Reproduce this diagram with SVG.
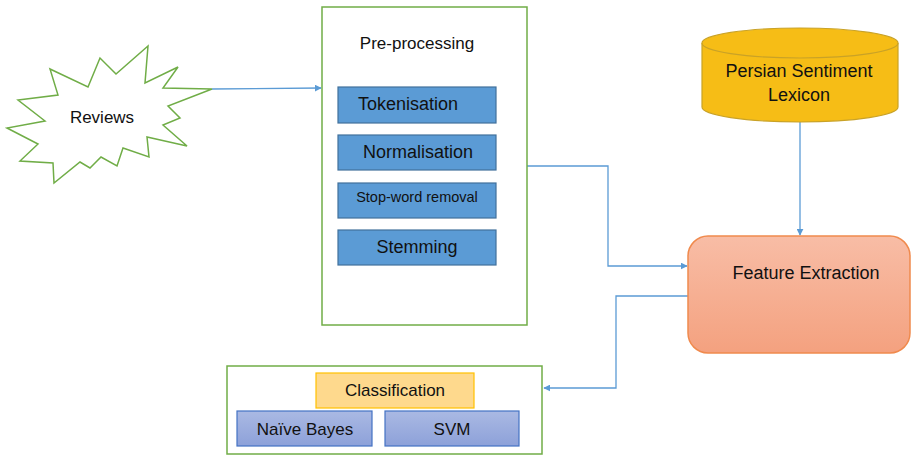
<svg xmlns="http://www.w3.org/2000/svg" width="911" height="456" viewBox="0 0 911 456">
  <style>
    text { font-family: "Liberation Sans", Arial, sans-serif; fill: #111; text-anchor: middle; }
    .frame { fill: #fff; stroke: #70AD47; stroke-width: 1.5; }
    .step { fill: #5B9BD5; stroke: #41719C; stroke-width: 1.2; }
    .algo { fill: url(#algoFill); stroke: #4472C4; stroke-width: 1.2; }
    .conn { fill: none; stroke: #5B9BD5; stroke-width: 1.3; marker-end: url(#arrow); }
  </style>
  <defs>
    <marker id="arrow" viewBox="0 0 10 10" refX="9" refY="5" markerWidth="7" markerHeight="7" markerUnits="userSpaceOnUse" orient="auto">
      <path d="M0,0 L10,5 L0,10 z" fill="#5B9BD5"/>
    </marker>
    <linearGradient id="featFill" x1="0" y1="0" x2="0" y2="1">
      <stop offset="0" stop-color="#F8BDA6"/>
      <stop offset="1" stop-color="#F4A17F"/>
    </linearGradient>
    <linearGradient id="algoFill" x1="0" y1="0" x2="0" y2="1">
      <stop offset="0" stop-color="#AAB9E3"/>
      <stop offset="1" stop-color="#8DA1D9"/>
    </linearGradient>
  </defs>

  <!-- connectors -->
  <g id="connectors">
    <path class="conn" d="M212,89 L321,88"/>
    <path class="conn" d="M527,166 H608 V266 H687"/>
    <path class="conn" d="M800,122 V235"/>
    <path class="conn" d="M688,296 H616 V388 H544"/>
  </g>

  <!-- input star -->
  <g id="reviews">
    <polygon fill="#fff" stroke="#70AD47" stroke-width="1.5"
      points="212,89 168,106 180,118 163,125 187,146 147,137 149,157 123,148 117,166 101,157 90,168 80,162 54,183 53,163 20,161 38,144 7,128 45,121 18,100 58,95 50,69 88,87 100,58 116,74 148,46 145,83 178,67 163,88"/>
    <text x="102" y="123" font-size="17">Reviews</text>
  </g>

  <!-- pre-processing stage -->
  <g id="preprocessing">
    <rect class="frame" x="322" y="7" width="205" height="318"/>
    <text x="417" y="49" font-size="17">Pre-processing</text>
  </g>
  <g id="tokenisation">
    <rect class="step" x="338" y="87" width="158" height="36"/>
    <text x="408" y="110" font-size="18">Tokenisation</text>
  </g>
  <g id="normalisation">
    <rect class="step" x="338" y="135" width="158" height="35"/>
    <text x="418" y="158" font-size="18">Normalisation</text>
  </g>
  <g id="stopword">
    <rect class="step" x="338" y="183" width="158" height="35"/>
    <text x="417" y="202" font-size="14.5">Stop-word removal</text>
  </g>
  <g id="stemming">
    <rect class="step" x="338" y="230" width="158" height="35"/>
    <text x="417" y="253" font-size="18">Stemming</text>
  </g>

  <!-- lexicon store -->
  <g id="lexicon">
    <path d="M702,43 V107 A98,15 0 0 0 898,107 V43" fill="#F6BD16" stroke="#C9A227" stroke-width="1.2"/>
    <ellipse cx="800" cy="43" rx="98" ry="15" fill="#F6BD16" stroke="#C9A227" stroke-width="1.2"/>
    <text x="799" y="77" font-size="18">Persian Sentiment</text>
    <text x="799" y="101" font-size="18">Lexicon</text>
  </g>

  <!-- feature extraction -->
  <g id="feature-extraction">
    <rect x="688" y="236" width="222" height="117" rx="20" ry="20" fill="url(#featFill)" stroke="#F08A4D" stroke-width="1.5"/>
    <text x="806" y="279" font-size="18">Feature Extraction</text>
  </g>

  <!-- classification stage -->
  <g id="classification">
    <rect class="frame" x="227" y="366" width="315" height="88"/>
    <rect x="316" y="373" width="158" height="35" fill="#FED98D" stroke="#FFC000" stroke-width="1.2"/>
    <text x="395" y="396" font-size="17">Classification</text>
  </g>
  <g id="naive-bayes">
    <rect class="algo" x="237" y="411" width="135" height="35"/>
    <text x="305" y="435" font-size="17">Naïve Bayes</text>
  </g>
  <g id="svm">
    <rect class="algo" x="385" y="411" width="134" height="35"/>
    <text x="452" y="435" font-size="17">SVM</text>
  </g>
</svg>
